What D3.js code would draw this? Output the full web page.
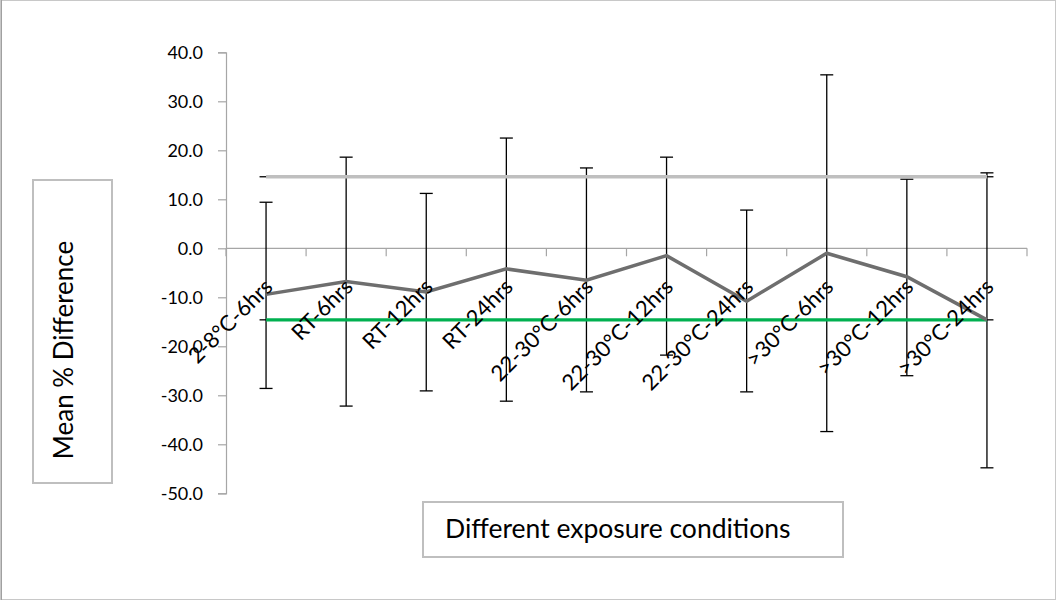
<!DOCTYPE html>
<html>
<head>
<meta charset="utf-8">
<script src="https://cdn.jsdelivr.net/npm/d3@7"></script>
<style>
  body { margin: 0; background: #fff; }
  svg { display: block; }
  text { font-family: Lato, "Open Sans", sans-serif; fill: #000; }
</style>
</head>
<body>
<svg width="1056" height="600"></svg>
<script>
// data
var categories = ["2-8°C-6hrs", "RT-6hrs", "RT-12hrs", "RT-24hrs", "22-30°C-6hrs",
                  "22-30°C-12hrs", "22-30°C-24hrs", ">30°C-6hrs", ">30°C-12hrs", ">30°C-24hrs"];
var meanDiff = [-9.4, -6.8, -8.9, -4.2, -6.5, -1.5, -10.8, -1.0, -5.8, -14.6];
var errUpper = [9.4, 18.6, 11.2, 22.5, 16.4, 18.6, 7.8, 35.4, 14.1, 15.4];
var errLower = [-28.6, -32.2, -29.1, -31.2, -29.3, -21.8, -29.3, -37.4, -26.0, -44.8];
var upperLimit = [14.6, 14.6, 14.6, 14.6, 14.6, 14.6, 14.6, 14.6, 14.6, 14.6];
var lowerLimit = [-14.6, -14.6, -14.6, -14.6, -14.6, -14.6, -14.6, -14.6, -14.6, -14.6];
var yTicks = [40, 30, 20, 10, 0, -10, -20, -30, -40, -50];

var svg = d3.select("svg"),
    width = +svg.attr("width"),
    height = +svg.attr("height");

// outer frame
svg.append("rect")
    .attr("x", 0.5).attr("y", 0.5)
    .attr("width", width - 1).attr("height", height - 1)
    .attr("fill", "#fff")
    .attr("stroke", "#c8c8c8");
svg.append("line")
    .attr("x1", 1.5).attr("x2", 1.5).attr("y1", 0).attr("y2", height)
    .attr("stroke", "#a0a0a0");

var plotLeft = 226, plotRight = 1027;

var x = d3.scaleBand()
    .domain(categories)
    .range([plotLeft, plotRight])
    .padding(0);

var y = d3.scaleLinear()
    .domain([-50, 40])
    .range([493.3, 52.3]);

var cx = function(c) { return x(c) + x.bandwidth() / 2; };

// y axis
var yAxis = d3.axisLeft(y)
    .tickValues(yTicks)
    .tickFormat(function(d) { return d.toFixed(1); })
    .tickSize(8)
    .tickPadding(15);

var gy = svg.append("g")
    .attr("transform", "translate(" + plotLeft + ",0)")
    .call(yAxis);
gy.select(".domain").attr("stroke", "#a6a6a6").attr("stroke-width", 1.2);
gy.selectAll(".tick line").attr("stroke", "#a6a6a6").attr("stroke-width", 1.2);
gy.selectAll(".tick text")
    .style("font-family", "Lato, sans-serif")
    .style("font-size", "18px")
    .attr("fill", "#000");

// category axis at zero (ticks between categories)
var gx = svg.append("g")
    .attr("transform", "translate(0," + y(0) + ")");
gx.append("line")
    .attr("x1", plotLeft).attr("x2", plotRight)
    .attr("y1", 0).attr("y2", 0)
    .attr("stroke", "#a6a6a6").attr("stroke-width", 1.2);
var bounds = categories.map(function(c) { return x(c); }).concat([plotRight]);
gx.selectAll("line.tk")
    .data(bounds)
    .enter().append("line")
    .attr("class", "tk")
    .attr("x1", function(d) { return d; }).attr("x2", function(d) { return d; })
    .attr("y1", 0).attr("y2", 8)
    .attr("stroke", "#a6a6a6").attr("stroke-width", 1.2);

// error bars
var capW = 6.5;
var eb = svg.append("g").attr("stroke", "#000").attr("stroke-width", 1.3);
categories.forEach(function(c, i) {
    var xx = cx(c);
    eb.append("line").attr("x1", xx).attr("x2", xx)
        .attr("y1", y(errUpper[i])).attr("y2", y(errLower[i]));
    eb.append("line").attr("x1", xx - capW).attr("x2", xx + capW)
        .attr("y1", y(errUpper[i])).attr("y2", y(errUpper[i]));
    eb.append("line").attr("x1", xx - capW).attr("x2", xx + capW)
        .attr("y1", y(errLower[i])).attr("y2", y(errLower[i]));
});
// zero-length caps at the ends of the limit lines
[upperLimit, lowerLimit].forEach(function(arr) {
    [0, categories.length - 1].forEach(function(i) {
        var xx = cx(categories[i]);
        eb.append("line").attr("x1", xx - capW).attr("x2", xx + capW)
            .attr("y1", y(arr[i])).attr("y2", y(arr[i]));
    });
});

var line = d3.line()
    .x(function(d, i) { return cx(categories[i]); })
    .y(function(d) { return y(d); });

svg.append("path").datum(upperLimit)
    .attr("d", line).attr("fill", "none")
    .attr("stroke", "#bfbfbf").attr("stroke-width", 3.5);

svg.append("path").datum(lowerLimit)
    .attr("d", line).attr("fill", "none")
    .attr("stroke", "#00b050").attr("stroke-width", 3.2);

svg.append("path").datum(meanDiff)
    .attr("d", line).attr("fill", "none")
    .attr("stroke", "#6e6e6e").attr("stroke-width", 3.5)
    .attr("stroke-linejoin", "miter");

// rotated category labels
svg.append("g").selectAll("text")
    .data(categories)
    .enter().append("text")
    .attr("transform", function(d) {
        return "translate(" + (cx(d) + 8) + "," + (y(0) + 40) + ") rotate(-45)";
    })
    .attr("text-anchor", "end")
    .style("font-size", "22px")
    .text(function(d) { return d; });

// axis title boxes
svg.append("rect")
    .attr("x", 33).attr("y", 180).attr("width", 79).attr("height", 303)
    .attr("fill", "#fff").attr("stroke", "#bfbfbf").attr("stroke-width", 2);
svg.append("text")
    .attr("transform", "translate(73,350) rotate(-90)")
    .attr("text-anchor", "middle")
    .style("font-size", "26px")
    .text("Mean % Difference");

svg.append("rect")
    .attr("x", 423).attr("y", 502).attr("width", 420).attr("height", 55)
    .attr("fill", "#fff").attr("stroke", "#bfbfbf").attr("stroke-width", 2);
svg.append("text")
    .attr("x", 445).attr("y", 538)
    .style("font-size", "26.5px")
    .text("Different exposure conditions");
</script>
</body>
</html>
